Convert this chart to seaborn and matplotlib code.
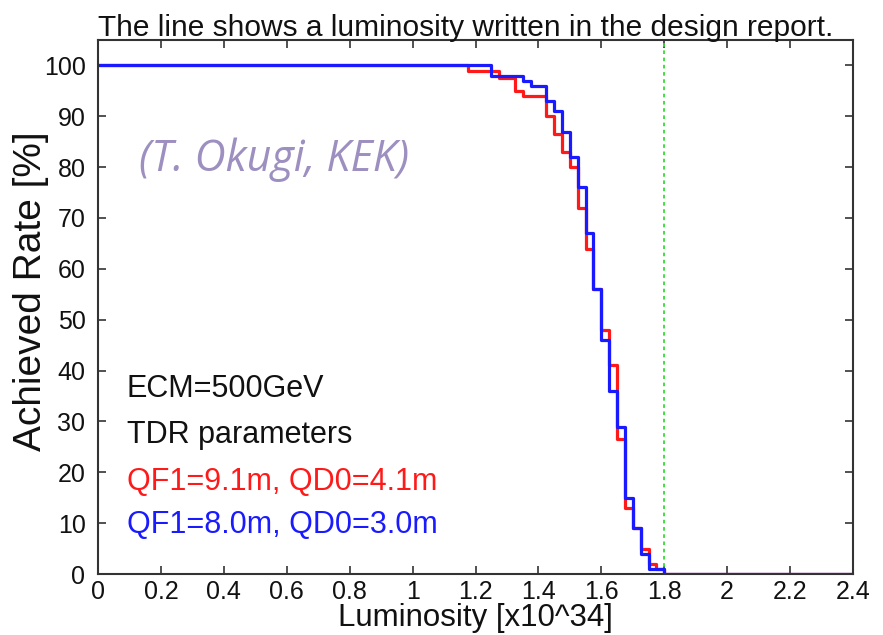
import matplotlib
matplotlib.use("Agg")
import matplotlib.pyplot as plt
import seaborn as sns
import pandas as pd
import numpy as np

# ---- data ----
red_lum = [0.0, 1.175, 1.275, 1.325, 1.35, 1.425, 1.45, 1.475, 1.5, 1.525, 1.55,
           1.575, 1.6, 1.625, 1.65, 1.675, 1.7, 1.725, 1.75, 1.775, 1.8, 2.4]
red_rate = [100, 99, 97.5, 95, 94, 90, 86.5, 83, 80, 72, 64,
            56, 48, 41, 26.5, 13, 9, 5, 2, 1, 0, 0]
blue_lum = [0.0, 1.25, 1.35, 1.375, 1.425, 1.45, 1.475, 1.5, 1.525, 1.55,
            1.575, 1.6, 1.625, 1.65, 1.675, 1.7, 1.725, 1.75, 1.8, 2.4]
blue_rate = [100, 98, 97, 96, 93, 91, 87, 82, 76, 67,
             56, 46, 36, 29, 15, 9, 4, 1, 0, 0]
series_names = ["QF1=9.1m, QD0=4.1m", "QF1=8.0m, QD0=3.0m"]
series_colors = ["#ff1a1a", "#1a1aff"]
design_lum = 1.8
x_ticks = [0, 0.2, 0.4, 0.6, 0.8, 1, 1.2, 1.4, 1.6, 1.8, 2, 2.2, 2.4]
x_tick_labels = ["0", "0.2", "0.4", "0.6", "0.8", "1", "1.2", "1.4", "1.6", "1.8", "2", "2.2", "2.4"]
y_ticks = [0, 10, 20, 30, 40, 50, 60, 70, 80, 90, 100]

df = pd.concat([
    pd.DataFrame({"lum": red_lum, "rate": red_rate, "config": series_names[0]}),
    pd.DataFrame({"lum": blue_lum, "rate": blue_rate, "config": series_names[1]}),
], ignore_index=True)

sns.set_style("ticks")
plt.rcParams["font.family"] = ["Liberation Sans", "DejaVu Sans"]

fig = plt.figure(figsize=(8.83, 6.35), dpi=100)
ax = fig.add_axes([98 / 883, 1 - 574 / 635, (853 - 98) / 883, (574 - 40) / 635])

sns.lineplot(data=df, x="lum", y="rate", hue="config", hue_order=series_names,
             palette=series_colors, drawstyle="steps-post", estimator=None,
             sort=False, linewidth=2.3, legend=False, ax=ax)

ax.axvline(design_lum, color="#33dd33", linestyle=(0, (2, 2)), linewidth=1.3, zorder=1)

ax.set_xlim(0, 2.4)
ax.set_ylim(0, 105)
ax.set_xticks(x_ticks)
ax.set_xticklabels(x_tick_labels)
ax.set_yticks(y_ticks)
ax.tick_params(axis="both", direction="in", length=6, width=1.2, color="#333333",
               labelsize=18, labelcolor="#111111", top=True, right=True)
ax.tick_params(axis="x", pad=4)
ax.tick_params(axis="y", pad=9)
for s in ax.spines.values():
    s.set_visible(True)
    s.set_linewidth(1.5)
    s.set_color("#333333")

ax.set_xlabel("Luminosity [x10^34]", fontsize=22.5, color="#111111")
ax.xaxis.set_label_coords(0.5, (574 - 633) / 534)
ax.xaxis.label.set_va("bottom")
ax.set_ylabel("Achieved Rate [%]", fontsize=28, color="#111111")
ax.yaxis.set_label_coords(-0.065, 0.53)

ax.set_title("The line shows a luminosity written in the design report.",
             fontsize=21.5, loc="left", pad=3, color="#111111")

ax.text(0.092, 34.8, "ECM=500GeV", fontsize=22, color="#111111")
ax.text(0.092, 25.8, "TDR parameters", fontsize=22, color="#111111")
ax.text(0.092, 16.5, series_names[0], fontsize=22, color=series_colors[0])
ax.text(0.092, 8.0, series_names[1], fontsize=22, color=series_colors[1])

ax.text(0.13, 81.5, "(T. Okugi, KEK)", fontsize=31, style="italic",
        color="#9d90c0", family=["Open Sans", "DejaVu Sans"], va="center", ha="left")

fig.savefig("out.png", dpi=100)
